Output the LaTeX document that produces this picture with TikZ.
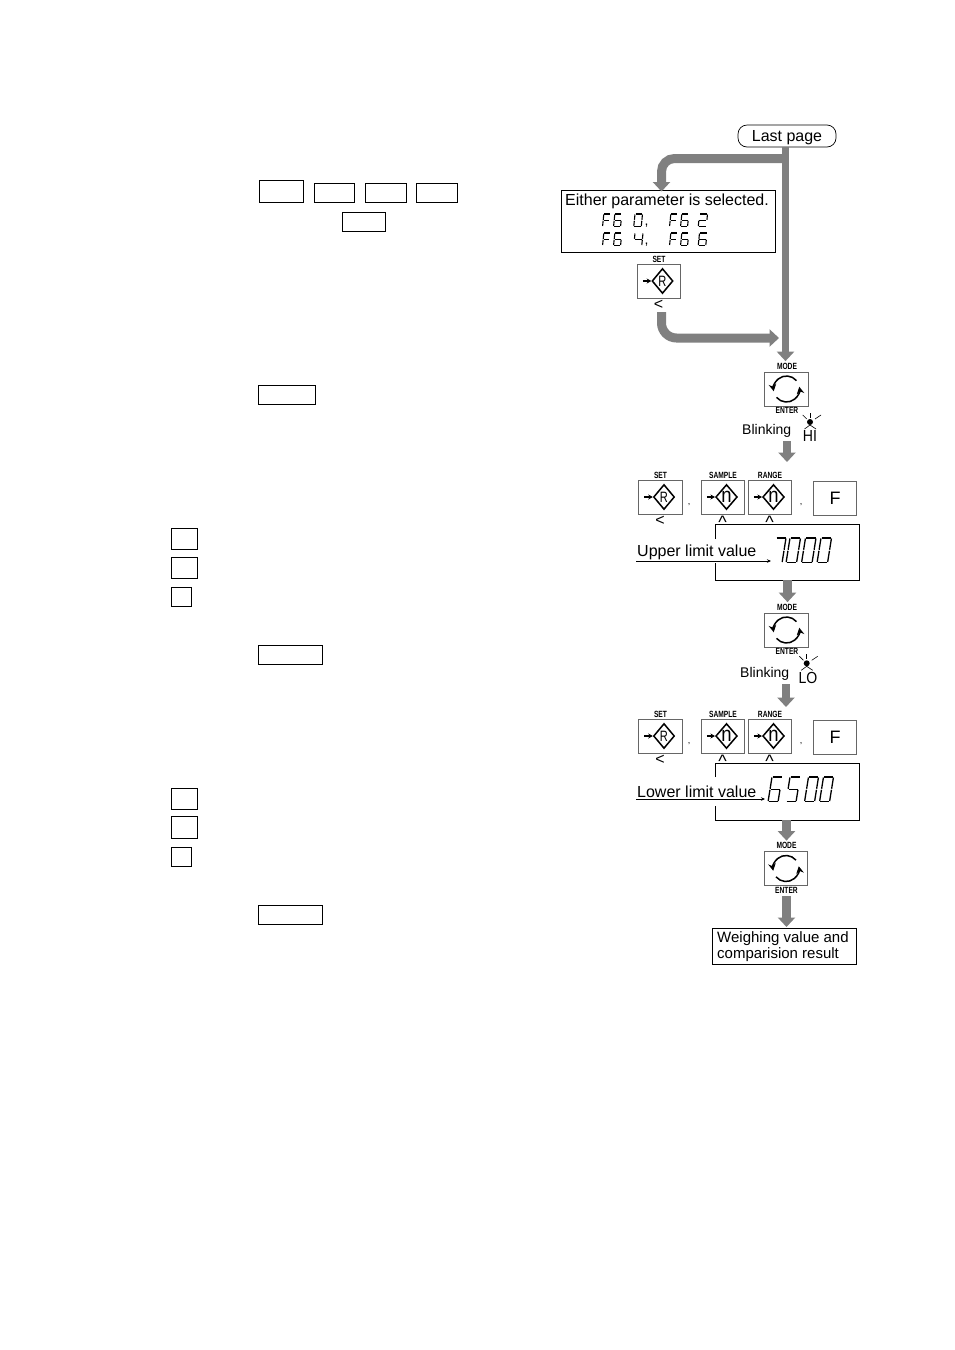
\documentclass[tikz,border=0pt]{standalone}
\usepackage{fontspec}
\setmainfont{Liberation Sans}
\newfontfamily\labelfont[FakeStretch=0.74]{Liberation Sans}
\newfontfamily\letterfont[FakeStretch=0.88]{Liberation Sans}
\usetikzlibrary{arrows.meta,shapes.geometric}

% Seven-segment glyphs: a top, b/c right, d bottom, e/f left, g middle
\def\dseggap{0.5}
\def\sega{(\dseggap,0) -- ({\dw-\dseggap},0)}
\def\segb{(\dw,\dseggap) -- (\dw,{\dh/2-\dseggap})}
\def\segc{(\dw,{\dh/2+\dseggap}) -- (\dw,{\dh-\dseggap})}
\def\segd{(\dseggap,\dh) -- ({\dw-\dseggap},\dh)}
\def\sege{(0,{\dh/2+\dseggap}) -- (0,{\dh-\dseggap})}
\def\segf{(0,\dseggap) -- (0,{\dh/2-\dseggap})}
\def\segg{(\dseggap,\dh/2) -- ({\dw-\dseggap},\dh/2)}
% \segdigit{left}{top}{width}{height}{slant}{line width}{segments}
\newcommand\segdigit[7]{%
  \begin{scope}[shift={(#1,#2)},xslant=#5]
    \def\dw{#3}\def\dh{#4}
    \foreach \s in {#7}{\draw[line width=#6pt,black] \csname seg\s\endcsname;}
  \end{scope}}

% \modekey{name}{cx}{cy}: MODE / ENTER key with two circular arrows
\newcommand\modekey[3]{%
  \node[keybox] (#1) at (#2,#3) {};
  \node[keylabel] (#1top) at (#2+0.5,#3-23) {MODE};
  \node[keylabel] (#1bot) at (#2+0.5,#3+21.5) {ENTER};
  \draw[turn] ([shift={(40:13pt)}]#1.center) arc[start angle=40,end angle=190,radius=13pt];
  \draw[turn] ([shift={(220:13pt)}]#1.center) arc[start angle=220,end angle=370,radius=13pt];
}
% \diakey{name}{cx}{cy}{label}{letter font}{letter}{mark font}{mark}
\newcommand\diakey[8]{%
  \node[keybox] (#1) at (#2,#3) {};
  \node[keylabel] (#1top) at (#2,#3-22) {#4};
  \node[keydiamond,font=#5] (#1dia) at (#2+3.5,#3) {#6};
  \draw[keyarrow] ([xshift=6pt]#1.west) -- (#1dia.west);
  \node[keymark,font=#7,anchor=north] (#1mark) at (#2-0.5,#3+18.5) {#8};
}
% \blinkicon{name}{x}{y}: lamp with rays over the chevron of the limit letters
\newcommand\blinkicon[3]{%
  \node[circle,fill=black,inner sep=0pt,minimum size=6pt] (#1) at (#2,#3) {};
  \draw[thinline] (#2-7.3,#3-7) -- (#2-3.3,#3-3);
  \draw[thinline] (#2,#3-9) -- (#2,#3-4);
  \draw[thinline] (#2+11,#3-7) -- (#2+5,#3-3);
  \draw[thinline] (#2-5.5,#3+7) -- (#2,#3+3) -- (#2+6,#3+7);
}
\newcommand\lessfont{\fontsize{16}{16}\selectfont}
\newcommand\caretfont{\fontsize{18}{18}\selectfont}
\newcommand\Rfont{\labelfont\fontsize{15}{15}\selectfont}
\newcommand\nfont{\letterfont\fontsize{21}{21}\selectfont}

\tikzset{
  x=1pt,y=-1pt,
  flow/.style={draw={rgb,255:red,128;green,128;blue,128},line width=8.5pt,
    -{Triangle[length=9.5pt,width=17pt]}},
  keybox/.style={draw=black!60,line width=0.8pt,minimum width=43.5pt,minimum height=34pt,inner sep=0pt},
  keylabel/.style={inner sep=0pt,font=\labelfont\bfseries\fontsize{9}{10}\selectfont},
  keydiamond/.style={diamond,draw,line width=1.5pt,minimum width=21pt,minimum height=25pt,inner sep=0pt},
  keyarrow/.style={line width=1.2pt,-{Stealth[length=4.5pt,width=5pt]}},
  keymark/.style={inner sep=0pt},
  turn/.style={line width=1.5pt,-{Stealth[length=7pt,width=7.5pt]}},
  thinline/.style={line width=0.6pt},
  blankbox/.style={draw,line width=1pt,inner sep=0pt},
  sentence/.style={inner sep=0pt,font=\fontsize{16}{18}\selectfont},
  blink/.style={inner sep=0pt,font=\fontsize{14}{16}\selectfont},
  limitname/.style={inner sep=0pt,font=\letterfont\fontsize{16}{16}\selectfont},
  dispedge/.style={line width=1pt},
  pointer/.style={line width=0.8pt,-{Stealth[length=4pt,width=3.5pt]}},
}

\begin{document}
\begin{tikzpicture}
\fill[white] (0,0) rectangle (954,1350);

% Empty text keys on the left
\node[blankbox,minimum width=44pt,minimum height=22pt] (kA) at (281,191) {};
\node[blankbox,minimum width=40pt,minimum height=19pt] (kB) at (334,192.5) {};
\node[blankbox,minimum width=41pt,minimum height=19pt] (kC) at (385.5,192.5) {};
\node[blankbox,minimum width=41pt,minimum height=19pt] (kD) at (436.5,192.5) {};
\node[blankbox,minimum width=43pt,minimum height=19pt] (kE) at (363.5,221.5) {};
\node[blankbox,minimum width=57pt,minimum height=19pt] (kF) at (287,394.5) {};
\node[blankbox,minimum width=26pt,minimum height=21pt] (kG) at (184,538.5) {};
\node[blankbox,minimum width=26pt,minimum height=21pt] (kH) at (184,567.5) {};
\node[blankbox,minimum width=20pt,minimum height=19pt] (kI) at (181,596.5) {};
\node[blankbox,minimum width=64pt,minimum height=19pt] (kJ) at (290,654.5) {};
\node[blankbox,minimum width=26pt,minimum height=21pt] (kK) at (184,798.5) {};
\node[blankbox,minimum width=26pt,minimum height=22pt] (kL) at (184,827) {};
\node[blankbox,minimum width=20pt,minimum height=19pt] (kM) at (181,856.5) {};
\node[blankbox,minimum width=64pt,minimum height=19pt] (kN) at (290,914.5) {};

% Start of the flow and the parameter box
\node[draw,rounded corners=9pt,line width=0.7pt,minimum width=98pt,minimum height=22pt,inner sep=0pt] (last) at (787,136) {};
\node[inner sep=0pt,font=\fontsize{16}{18}\selectfont] (lastText) at (787,137.5) {Last page};
\node[draw,line width=1pt,minimum width=214pt,minimum height=62pt,inner sep=0pt] (either) at (668,221) {};
\node[sentence,anchor=west] (eitherText) at (565,201.5) {Either parameter is selected.};

\segdigit{603.8}{214}{6.8}{12.5}{0.1}{1.1}{a,e,f,g}
\segdigit{614.8}{214}{7}{12.5}{0.1}{1.1}{a,c,d,e,f,g}
\segdigit{635}{214}{7.5}{12.5}{0.1}{1.1}{a,b,c,d,e,f}
\node[inner sep=0pt,font=\fontsize{14}{14}\selectfont] (commaA) at (646.5,226) {,};
\segdigit{670.8}{214}{6.8}{12.5}{0.1}{1.1}{a,e,f,g}
\segdigit{681.8}{214}{7}{12.5}{0.1}{1.1}{a,c,d,e,f,g}
\segdigit{699.5}{214}{8}{12.5}{0.1}{1.1}{a,b,d,e,g}
\segdigit{603.8}{233}{6.8}{12.5}{0.1}{1.1}{a,e,f,g}
\segdigit{614.8}{233}{7}{12.5}{0.1}{1.1}{a,c,d,e,f,g}
\segdigit{635}{233}{8}{12.5}{0.1}{1.1}{b,c,f,g}
\node[inner sep=0pt,font=\fontsize{14}{14}\selectfont] (commaB) at (646.5,245) {,};
\segdigit{670.8}{233}{6.8}{12.5}{0.1}{1.1}{a,e,f,g}
\segdigit{681.8}{233}{7}{12.5}{0.1}{1.1}{a,c,d,e,f,g}
\segdigit{699.5}{233}{7.5}{12.5}{0.1}{1.1}{a,c,d,e,f,g}

\diakey{setA}{659}{281}{SET}{\Rfont}{R}{\lessfont}{\textless}

% First MODE key and high limit
\modekey{modeA}{786.5}{389}
\node[blink,anchor=west] (blinkA) at (742,431) {Blinking};
\blinkicon{lampA}{810}{422}
\node[limitname] (hi) at (810,436) {HI};

\diakey{setB}{660.5}{497}{SET}{\Rfont}{R}{\lessfont}{\textless}
\diakey{sampleB}{723}{497}{SAMPLE}{\nfont}{n}{\caretfont}{\textasciicircum}
\diakey{rangeB}{770}{497}{RANGE}{\nfont}{n}{\caretfont}{\textasciicircum}
\node[keybox,font=\fontsize{18}{18}\selectfont] (fB) at (835,498) {F};
\node[inner sep=0pt,font=\fontsize{9}{9}\selectfont] (sepA) at (689,505) {,};
\node[inner sep=0pt,font=\fontsize{9}{9}\selectfont] (sepB) at (801,505) {,};

\node[minimum width=143pt,minimum height=55pt,inner sep=0pt] (dispA) at (787.5,552.5) {};
\draw[dispedge] (dispA.west |- 0,539) -- (dispA.north west) -- (dispA.north east)
  -- (dispA.south east) -- (dispA.south west) -- (dispA.west |- 0,563);
\node[sentence,anchor=west] (upperText) at (637,552.5) {Upper limit value};
\coordinate (upperFrom) at (636,561);
\coordinate (upperTo) at (771,561);
\draw[pointer] (upperFrom) -- (upperTo);
\segdigit{776}{538}{10}{24.5}{0.16}{1.3}{a,b,c}
\segdigit{790}{538}{10.5}{24.5}{0.16}{1.3}{a,b,c,d,e,f}
\segdigit{805.5}{538}{10.5}{24.5}{0.16}{1.3}{a,b,c,d,e,f}
\segdigit{821}{538}{10.5}{24.5}{0.16}{1.3}{a,b,c,d,e,f}

% Second MODE key and low limit
\modekey{modeB}{786.5}{630}
\node[blink,anchor=west] (blinkB) at (740,674) {Blinking};
\blinkicon{lampB}{806.7}{663.3}
\node[limitname] (lo) at (808,678) {LO};

\diakey{setC}{660.5}{736}{SET}{\Rfont}{R}{\lessfont}{\textless}
\diakey{sampleC}{723}{736}{SAMPLE}{\nfont}{n}{\caretfont}{\textasciicircum}
\diakey{rangeC}{770}{736}{RANGE}{\nfont}{n}{\caretfont}{\textasciicircum}
\node[keybox,font=\fontsize{18}{18}\selectfont] (fC) at (835,737) {F};
\node[inner sep=0pt,font=\fontsize{9}{9}\selectfont] (sepC) at (689,744) {,};
\node[inner sep=0pt,font=\fontsize{9}{9}\selectfont] (sepD) at (801,744) {,};

\node[minimum width=143pt,minimum height=56pt,inner sep=0pt] (dispB) at (787.5,792) {};
\draw[dispedge] (dispB.west |- 0,777) -- (dispB.north west) -- (dispB.north east)
  -- (dispB.south east) -- (dispB.south west) -- (dispB.west |- 0,806);
\node[sentence,anchor=west] (lowerText) at (637,791.5) {Lower limit value};
\coordinate (lowerFrom) at (636,799);
\coordinate (lowerTo) at (765,799);
\draw[pointer] (lowerFrom) -- (lowerTo);
\segdigit{772}{777}{10}{24.5}{0.16}{1.3}{a,c,d,e,f,g}
\segdigit{790}{777}{10}{24.5}{0.16}{1.3}{a,c,d,f,g}
\segdigit{808.5}{777}{10}{24.5}{0.16}{1.3}{a,b,c,d,e,f}
\segdigit{823.5}{777}{10}{24.5}{0.16}{1.3}{a,b,c,d,e,f}

% Closing MODE key and result box
\modekey{modeC}{786}{868.5}
\node[draw,line width=1pt,minimum width=144pt,minimum height=36pt,inner sep=0pt] (result) at (784,946.5) {};
\node[inner sep=0pt,anchor=west,align=left,font=\fontsize{15}{16}\selectfont] (resultText) at (717,947)
  {Weighing value and\\comparision result};

% Thick grey flow arrows
\coordinate (split) at (785.5,158.5);
\coordinate (merge) at (779,338);
\coordinate (backStart) at (661.5,312);
\coordinate (blinkAout) at (787,441);
\coordinate (rowAin) at (787,462);
\coordinate (blinkBout) at (786,684);
\coordinate (rowBin) at (786,707);
\draw[flow,line width=7.5pt,shorten >=1.5pt] ([xshift=-1.5pt]last.south) -- ([xshift=-1.5pt]modeAtop.north);
\draw[flow,line width=9pt,rounded corners=13pt] (split) -| ([xshift=-6.5pt,yshift=-2pt]either.north);
\draw[flow,line width=9pt,rounded corners=15pt] (backStart) |- (merge);
\draw[flow] (blinkAout) -- (rowAin);
\draw[flow,shorten >=1.5pt] (dispA.south) -- (dispA.south |- modeBtop.north);
\draw[flow] (blinkBout) -- (rowBin);
\draw[flow,shorten >=1.5pt] ([xshift=-1pt]dispB.south) -- ([xshift=-1pt]dispB.south |- modeCtop.north);
\draw[flow] ([yshift=-2.5pt]modeCbot.south) -- ([yshift=1pt]modeCbot.south |- result.north);
\end{tikzpicture}
\end{document}
